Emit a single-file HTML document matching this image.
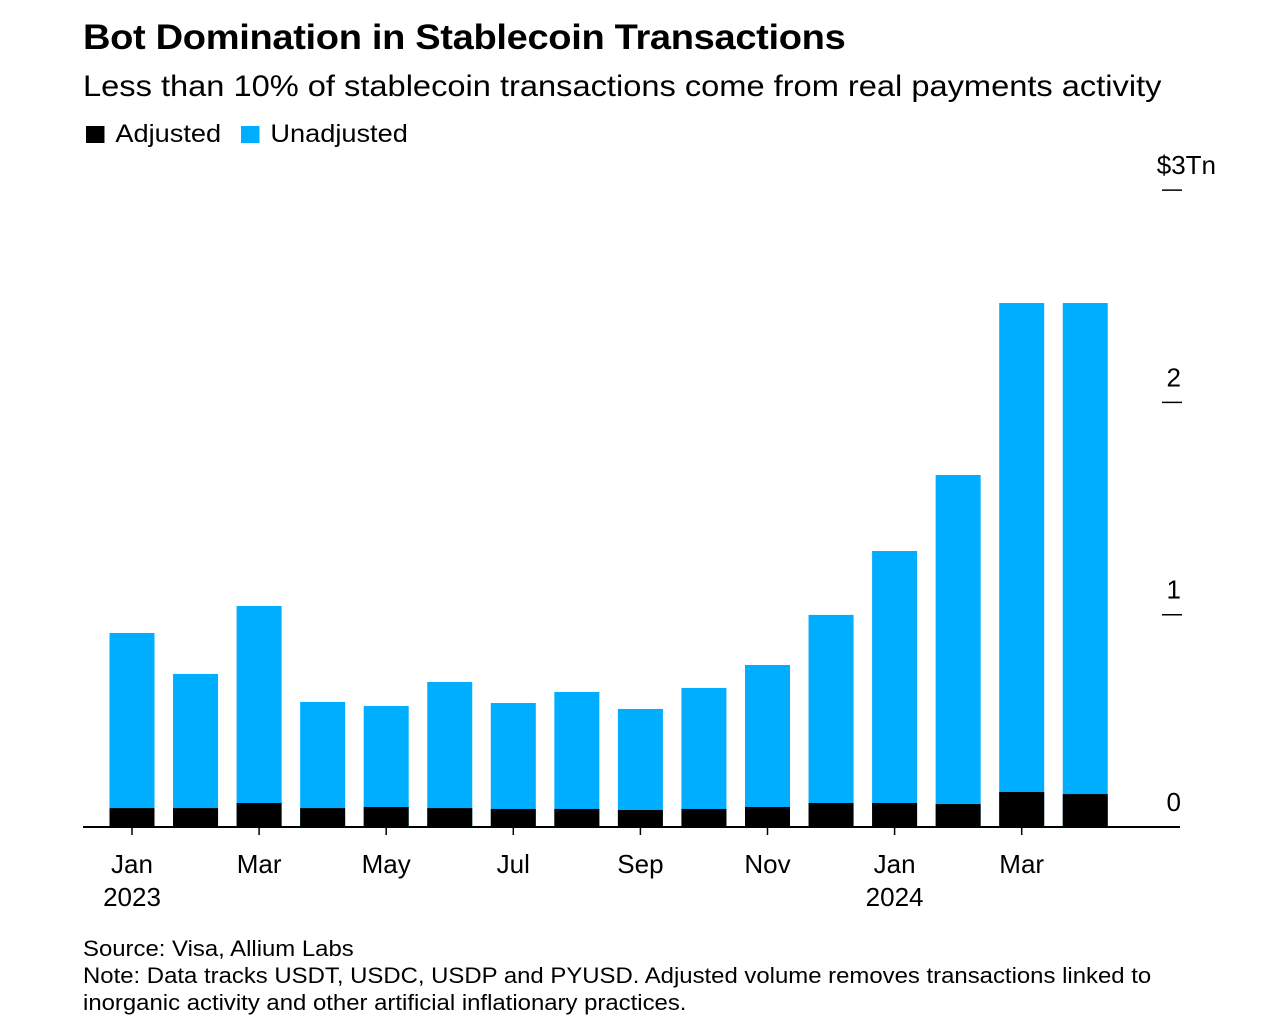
<!DOCTYPE html>
<html><head><meta charset="utf-8"><style>
body{margin:0;background:#fff;font-family:"Liberation Sans",Arial,sans-serif;color:#000;}
#wrap{position:relative;width:1280px;height:1033px;overflow:hidden;}
.t{position:absolute;white-space:nowrap;transform-origin:0 0;transform:scaleX(1.087);}
</style></head><body>
<div id="wrap">
<div class="t" style="left:83px;top:18px;font-size:35px;font-weight:bold;letter-spacing:-0.3px">Bot Domination in Stablecoin Transactions</div>
<div class="t" style="left:83px;top:70px;font-size:30px">Less than 10% of stablecoin transactions come from real payments activity</div>
<div class="t" style="left:86px;top:120px;font-size:25px"><span style="display:inline-block;width:17px;height:17px;background:#000;margin-right:10px;vertical-align:-1px"></span>Adjusted</div>
<div class="t" style="left:241px;top:120px;font-size:25px"><span style="display:inline-block;width:17px;height:17px;background:#00aeff;margin-right:10px;vertical-align:-1px"></span>Unadjusted</div>
<svg id="chart" width="1280" height="1033" style="position:absolute;left:0;top:0"></svg>
<div class="t" style="left:83px;top:935px;font-size:22px;line-height:27px">Source: Visa, Allium Labs<br>Note: Data tracks USDT, USDC, USDP and PYUSD. Adjusted volume removes transactions linked to<br>inorganic activity and other artificial inflationary practices.</div>
</div>
<script>
const months=["Jan","Feb","Mar","Apr","May","Jun","Jul","Aug","Sep","Oct","Nov","Dec","Jan","Feb","Mar","Apr"];
const unadjusted=[0.914,0.721,1.041,0.589,0.570,0.683,0.584,0.636,0.556,0.655,0.763,0.999,1.30,1.658,2.468,2.468];
const adjusted=[0.089,0.089,0.113,0.089,0.094,0.089,0.085,0.085,0.080,0.085,0.094,0.113,0.113,0.108,0.165,0.155];
const yTicks=[0,1,2,3];
const yTickLabels=["0","1","2","$3Tn"];
const xLabels=[[0,"Jan","2023"],[2,"Mar",""],[4,"May",""],[6,"Jul",""],[8,"Sep",""],[10,"Nov",""],[12,"Jan","2024"],[14,"Mar",""]];
const NS="http://www.w3.org/2000/svg";
const svg=document.getElementById('chart');
const y0=827,pxPer=212.3,x0=132,step=63.55,bw=45;
const yS=v=>y0-v*pxPer;
const xS=i=>x0+i*step;
function mk(tag,at){const e=document.createElementNS(NS,tag);for(const k in at)e.setAttribute(k,at[k]);svg.appendChild(e);return e;}
unadjusted.forEach((v,i)=>{
 const r=mk('rect',{x:xS(i)-bw/2,y:yS(v),width:bw,height:y0-yS(v),fill:'#00aeff'});
 
 
 const a=mk('rect',{x:xS(i)-bw/2,y:yS(adjusted[i]),width:bw,height:y0-yS(adjusted[i]),fill:'#000'});
 
 
});
const ax=mk('line',{x1:83,x2:1180,y1:y0,y2:y0,stroke:'#000','stroke-width':2});


yTicks.forEach((v,i)=>{
 const y=yS(v);
 if(v>0){const l=mk('line',{x1:1162,x2:1182,y1:y,y2:y,stroke:'#000','stroke-width':1.5});
 
 }
 const t=mk('text',{x:v===3?1216:1181,y:y-16,'text-anchor':'end','font-size':26,'font-family':'Liberation Sans, sans-serif'});
 t.textContent=yTickLabels[i];
 
 
});
xLabels.forEach(([i,m,yr])=>{
 const x=xS(i);
 const tk=mk('line',{x1:x,x2:x,y1:y0,y2:y0+8,stroke:'#000','stroke-width':1.5});
 
 
 const t=mk('text',{x:x,y:873,'text-anchor':'middle','font-size':26,'font-family':'Liberation Sans, sans-serif'});
 t.textContent=m;
 
 
 if(yr){const t2=mk('text',{x:x,y:906,'text-anchor':'middle','font-size':26,'font-family':'Liberation Sans, sans-serif'});
 t2.textContent=yr;
 
 }
});
</script>
</body></html>
